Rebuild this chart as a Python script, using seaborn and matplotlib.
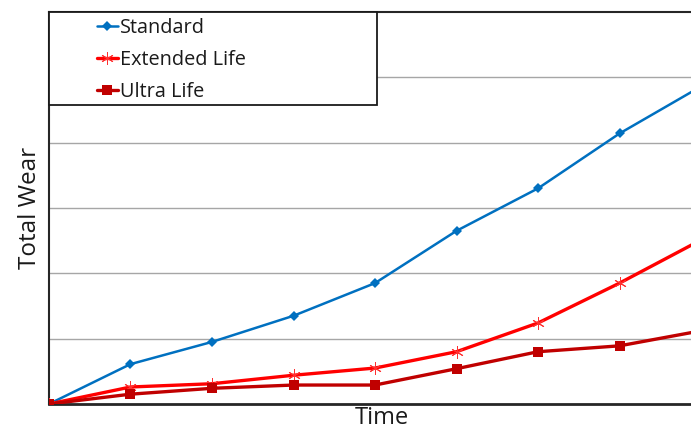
import numpy as np
import pandas as pd
import matplotlib
matplotlib.use('Agg')
import matplotlib.pyplot as plt
from matplotlib.patches import Rectangle
import seaborn as sns

sns.set_style('white')
plt.rcParams['font.family'] = ['Open Sans', 'DejaVu Sans']

time_points = [0, 1, 2, 3, 4, 5, 6, 7, 8]
standard = [0, 0.61, 0.95, 1.35, 1.85, 2.65, 3.30, 4.14, 4.86]
extended_life = [0, 0.26, 0.31, 0.44, 0.55, 0.80, 1.24, 1.85, 2.51]
ultra_life = [0, 0.15, 0.24, 0.29, 0.29, 0.54, 0.80, 0.89, 1.12]

fig = plt.figure(figsize=(6.91, 4.30), dpi=100)
ax = fig.add_axes([0.0709, 0.0605, 0.9291, 0.9117])

sns.lineplot(x=time_points, y=standard, ax=ax, color='#0070C0', lw=1.8,
             marker='D', markersize=5, markeredgewidth=0, label='Standard', zorder=3)
sns.lineplot(x=time_points, y=extended_life, ax=ax, color='#FF0000', lw=2.4,
             marker=(6, 2, 0), markersize=9, markeredgewidth=0.7, markeredgecolor='#FF3030',
             label='Extended Life', zorder=3)
sns.lineplot(x=time_points, y=ultra_life, ax=ax, color='#C00000', lw=2.4,
             marker='s', markersize=7, markeredgewidth=0, label='Ultra Life', zorder=3)

ax.set_xlim(0, 7.877)
ax.set_ylim(0, 6)
ax.set_yticks([1, 2, 3, 4, 5])
ax.set_xticks([])
ax.yaxis.grid(True, color='#A6A6A6', lw=1)
ax.tick_params(left=False, labelleft=False)

for side in ['left', 'top', 'bottom']:
    ax.spines[side].set_color('#262626')
    ax.spines[side].set_linewidth(1.5)
ax.spines['bottom'].set_linewidth(2)
ax.spines['right'].set_visible(False)

ax.set_xlabel('Time', fontsize=17, color='#1a1a1a', labelpad=0)
ax.xaxis.set_label_coords(0.518, -0.004, transform=ax.transAxes)
ax.xaxis.label.set_va('top')
ax.set_ylabel('Total Wear', fontsize=17.5, color='#1a1a1a', labelpad=5)

# legend box
ax.add_patch(Rectangle((0, 1 - 0.237), 0.511, 0.237, transform=ax.transAxes,
                       facecolor='white', edgecolor='#1a1a1a', lw=1.3, zorder=4, clip_on=False))
leg = ax.legend(loc='upper left', bbox_to_anchor=(0.0748, 0.985), frameon=False,
                borderaxespad=0, borderpad=0,
                fontsize=14.3, handlelength=1.05, handletextpad=0.1, labelspacing=0.6)
leg.set_zorder(5)
for t in leg.get_texts():
    t.set_color('#1a1a1a')

fig.savefig('out.png', dpi=100)
